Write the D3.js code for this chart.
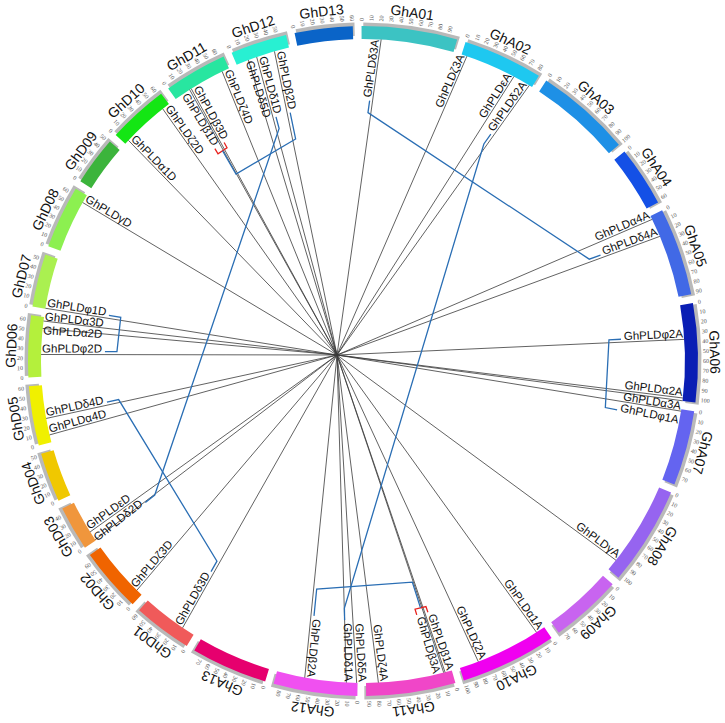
<!DOCTYPE html>
<html><head><meta charset="utf-8">
<script src="https://cdn.jsdelivr.net/npm/d3@7"></script>
<style>body{margin:0;background:#fff}svg{display:block}</style>
</head><body>
<svg id="c" width="725" height="723"></svg>
<script>
// ---------- data ----------
const chromNames = ["GhA01","GhA02","GhA03","GhA04","GhA05","GhA06","GhA07","GhA08","GhA09","GhA10","GhA11","GhA12","GhA13",
  "GhD01","GhD02","GhD03","GhD04","GhD05","GhD06","GhD07","GhD08","GhD09","GhD10","GhD11","GhD12","GhD13"];
const chromLengths = [99.9,83.4,100.3,62.9,92.0,103.2,78.3,103.6,74.9,100.9,93.3,87.5,79.9,
  61.5,67.3,46.7,51.5,61.9,64.3,55.3,65.9,51.0,63.4,66.1,59.1,60.5];
const chromColors = ["#3cc3c3","#1ec8f0","#1e90e6","#1450e6","#4169e6","#0a1eb4","#6464f0","#9664f0","#c864f0","#f000f0","#f046c8","#f050f0","#e6006e",
  "#f05a5a","#f06400","#f0963c","#f0c800","#f0f000","#b4f03c","#aaf050","#8cf050","#3cb43c","#14e614","#28e6a0","#28f0d2","#0a64c8"];
const tickStep = 10;

const geneNames = ["GhPLDδ3A","GhPLDζ3A","GhPLDεA","GhPLDδ2A","GhPLDα4A","GhPLDδ4A","GhPLDφ2A","GhPLDα2A","GhPLDα3A","GhPLDφ1A",
  "GhPLDγA","GhPLDα1A","GhPLDζ2A","GhPLDβ1A","GhPLDβ3A","GhPLDζ4A","GhPLDδ5A","GhPLDδ1A","GhPLDβ2A",
  "GhPLDδ3D","GhPLDζ3D","GhPLDδ2D","GhPLDεD","GhPLDα4D","GhPLDδ4D","GhPLDφ2D","GhPLDα2D","GhPLDα3D","GhPLDφ1D",
  "GhPLDγD","GhPLDα1D","GhPLDζ2D","GhPLDβ1D","GhPLDβ3D","GhPLDζ4D","GhPLDδ5D","GhPLDδ1D","GhPLDβ2D"];
const geneChroms = ["GhA01","GhA02","GhA02","GhA02","GhA05","GhA05","GhA06","GhA06","GhA06","GhA07",
  "GhA08","GhA10","GhA10","GhA11","GhA11","GhA11","GhA12","GhA12","GhA12",
  "GhD01","GhD02","GhD03","GhD03","GhD05","GhD05","GhD06","GhD06","GhD06","GhD07",
  "GhD08","GhD10","GhD10","GhD11","GhD11","GhD11","GhD12","GhD12","GhD12"];
const genePositions = [21,6,61,80,4,24,37,100,103,2,
  91,10,80,7.5,9,80,1,12,57,
  14,7,1,11,8,26,24,52,60,0.5,
  57,5,55,18,20,58,13.5,23,43];

const tandemPairs = [["GhPLDβ1A","GhPLDβ3A"],["GhPLDβ1D","GhPLDβ3D"]];
const segmentalPairs = [["GhPLDδ3A","GhPLDδ4A"],["GhPLDδ1A","GhPLDδ2A"],["GhPLDφ2A","GhPLDφ1A"],["GhPLDβ2A","GhPLDβ1A/GhPLDβ3A"],
  ["GhPLDδ4D","GhPLDδ3D"],["GhPLDδ2D","GhPLDδ1D"],["GhPLDφ1D","GhPLDφ2D"],["GhPLDβ2D","GhPLDβ1D/GhPLDβ3D"]];

// ---------- layout ----------
const cx = 363, cy = 361;
const R_IN = 322, R_OUT = 335, R_SH_IN = 325, R_SH_OUT = 338.5, R_TICK = 340, R_CLAB = 347, R_GENE = 321;
const P = [337, 355];
const GAP = 1.5, START = -0.25, MINSEP = 2.5;
const total = d3.sum(chromLengths);
const k = (360 - GAP * chromNames.length) / total;
let acc = START;
const chroms = chromNames.map((n, i) => {
  const s = acc, e = s + chromLengths[i] * k; acc = e + GAP;
  return {name: n, len: chromLengths[i], color: chromColors[i], start: s, end: e,
    scale: d3.scaleLinear().domain([0, chromLengths[i]]).range([s, e])};
});
const rad = d => d * Math.PI / 180;
const pt = (deg, r) => [cx + r * Math.sin(rad(deg)), cy - r * Math.cos(rad(deg))];

const svg = d3.select("#c");
const gRing = svg.append("g").attr("transform", `translate(${cx},${cy})`);
const arcSh = d3.arc().innerRadius(R_SH_IN).outerRadius(R_SH_OUT);
const arcBand = d3.arc().innerRadius(R_IN).outerRadius(R_OUT);
gRing.selectAll("path.sh").data(chroms).join("path").attr("class","sh")
  .attr("d", c => arcSh({startAngle: rad(c.start + 0.3), endAngle: rad(c.end + 0.3)}))
  .attr("fill", "#b9b9b9");
gRing.selectAll("path.band").data(chroms).join("path").attr("class","band")
  .attr("d", c => arcBand({startAngle: rad(c.start), endAngle: rad(c.end)}))
  .attr("fill", c => c.color);

// ticks
const gT = svg.append("g");
chroms.forEach(c => {
  const ticks = d3.range(0, c.len + 0.001, tickStep);
  ticks.forEach(v => {
    const th = c.scale(v);
    const p = pt(th, R_TICK);
    const out = th < 232;
    gT.append("text").attr("transform", `translate(${p[0]},${p[1]}) rotate(${out ? th - 90 : th + 90})`)
      .attr("text-anchor", out ? "start" : "end").attr("dy", "0.35em")
      .attr("font-family", "'Liberation Serif', serif").attr("font-size", 6).attr("fill", "#555")
      .text(v);
  });
  const mid = (c.start + c.end) / 2;
  const p = pt(mid, R_CLAB);
  gT.append("text").attr("transform", `translate(${p[0]},${p[1]}) rotate(${mid})`)
    .attr("text-anchor", "middle").attr("font-family", "'Liberation Sans', Arial, sans-serif")
    .attr("font-size", 14).attr("fill", "#111").text(c.name);
});

// genes
const genes = geneNames.map((n, i) => {
  const c = chroms[chromNames.indexOf(geneChroms[i])];
  return {name: n, genome: geneChroms[i][2], theta: c.scale(genePositions[i])};
});
const aG = genes.filter(d => d.genome === "A").sort((a, b) => a.theta - b.theta);
aG.forEach((d, i) => { d.lab = i ? Math.max(d.theta, aG[i-1].lab + MINSEP) : d.theta; });
const dG = genes.filter(d => d.genome === "D").sort((a, b) => b.theta - a.theta);
dG.forEach((d, i) => { d.lab = i ? Math.min(d.theta, dG[i-1].lab - MINSEP) : d.theta; });

const gL = svg.append("g");
gL.selectAll("line").data(genes).join("line")
  .attr("x1", d => pt(d.theta, R_IN)[0]).attr("y1", d => pt(d.theta, R_IN)[1])
  .attr("x2", P[0]).attr("y2", P[1]).attr("stroke", "#3a3a3a").attr("stroke-width", 0.8);

const byName = {};
genes.forEach(d => {
  byName[d.name] = d;
  const L = pt(d.lab, R_GENE);
  let dx = P[0] - L[0], dy = P[1] - L[1];
  const m = Math.hypot(dx, dy); dx /= m; dy /= m;
  const out = d.genome === "A";
  const ux = out ? -dx : dx, uy = out ? -dy : dy;
  const upx = uy, upy = -ux;
  const ang = Math.atan2(uy, ux) * 180 / Math.PI;
  const t = gL.append("text")
    .attr("transform", `translate(${L[0] + upx * 2},${L[1] + upy * 2}) rotate(${ang})`)
    .attr("text-anchor", out ? "end" : "start")
    .attr("font-family", "'Liberation Sans', Arial, sans-serif").attr("font-size", 11.5).attr("fill", "#111")
    .text(d.name);
  const len = t.node().getComputedTextLength();
  d.dir = [dx, dy];
  d.E = [L[0] + dx * (len + 3) + upx * 3, L[1] + dy * (len + 3) + upy * 3];
});

const line = d3.line();
const groups = {};
tandemPairs.forEach(([a, b]) => {
  const A = byName[a], B = byName[b], s = 6;
  const A1 = [A.E[0] + A.dir[0] * s, A.E[1] + A.dir[1] * s];
  const B1 = [B.E[0] + B.dir[0] * s, B.E[1] + B.dir[1] * s];
  svg.append("path").attr("d", line([A.E, A1, B1, B.E])).attr("fill", "none")
    .attr("stroke", "#e8211d").attr("stroke-width", 1.3);
  let gx = A.dir[0] + B.dir[0], gy = A.dir[1] + B.dir[1]; const gm = Math.hypot(gx, gy);
  groups[a + "/" + b] = {E: [(A1[0] + B1[0]) / 2, (A1[1] + B1[1]) / 2], dir: [gx / gm, gy / gm]};
});
segmentalPairs.forEach(([a, b]) => {
  const A = byName[a] || groups[a], B = byName[b] || groups[b];
  const s = (groups[a] || groups[b]) ? 27 : 12;
  const A1 = [A.E[0] + A.dir[0] * s, A.E[1] + A.dir[1] * s];
  const B1 = [B.E[0] + B.dir[0] * s, B.E[1] + B.dir[1] * s];
  svg.append("path").attr("d", line([A.E, A1, B1, B.E])).attr("fill", "none")
    .attr("stroke", "#2a6eb4").attr("stroke-width", 1.3);
});
</script>
</body></html>
